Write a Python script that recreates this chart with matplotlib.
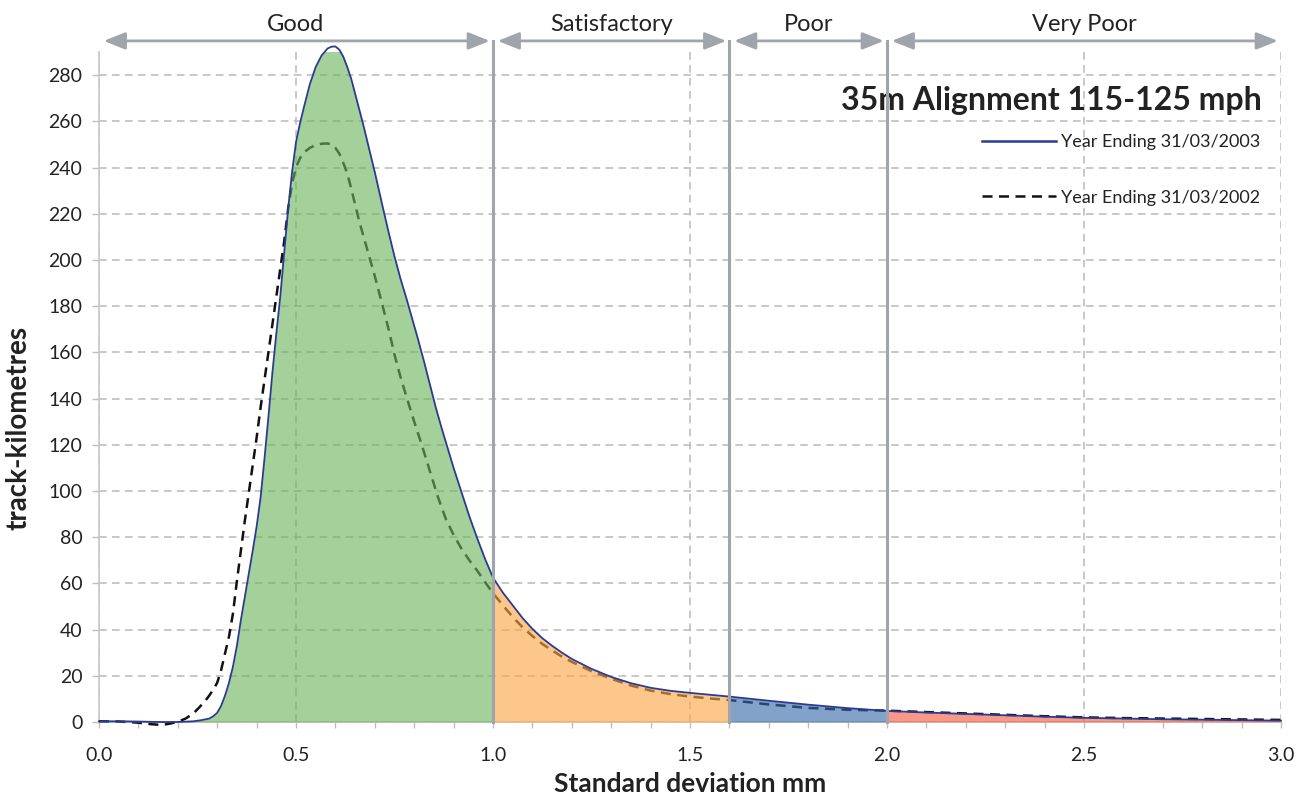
import numpy as np
import matplotlib.pyplot as plt
from matplotlib.lines import Line2D

plt.rcParams['font.family'] = ['Lato', 'DejaVu Sans']

# 2003 distribution (standard deviation mm -> track-km)
sd_2003 = [0.00, 0.05, 0.10, 0.15, 0.20, 0.24, 0.26, 0.28, 0.29, 0.30, 0.31, 0.32, 0.33,
           0.34, 0.35, 0.36, 0.37, 0.38, 0.39, 0.40, 0.41, 0.42, 0.43, 0.44, 0.45, 0.46,
           0.47, 0.48, 0.49, 0.50, 0.51, 0.52, 0.535, 0.55, 0.565, 0.58, 0.59, 0.60, 0.61,
           0.62, 0.629, 0.64, 0.65, 0.66, 0.67, 0.68, 0.69, 0.70, 0.71, 0.72, 0.735, 0.75,
           0.765, 0.78, 0.795, 0.81, 0.825, 0.84, 0.855, 0.87, 0.885, 0.90, 0.92, 0.94,
           0.96, 0.98, 1.00, 1.025, 1.05, 1.075, 1.10, 1.125, 1.15, 1.175, 1.20, 1.25,
           1.30, 1.35, 1.40, 1.45, 1.50, 1.55, 1.60, 1.70, 1.80, 1.90, 2.00, 2.10, 2.20,
           2.30, 2.40, 2.50, 2.60, 2.70, 2.80, 2.90, 3.00]
km_2003 = [0.3, 0.3, 0.2, 0.0, 0.0, 0.3, 0.8, 1.5, 2.5, 4.0, 7.0, 11.5, 17.0,
           24.0, 33, 44, 54, 64, 74, 84.5, 97, 114, 132, 151, 168, 184,
           203, 222, 238, 251, 259, 266, 276, 283.5, 288.5, 291.5, 292.3, 292.4, 291,
           288, 284, 278.5, 272, 265.5, 259, 252, 245, 238, 230.5, 223, 212, 201.5,
           192, 183.5, 174.5, 165.5, 156, 146, 136, 127, 118.5, 110, 99.5, 89,
           79.5, 70.5, 62.5, 56, 50.5, 45, 40.3, 36.3, 33, 30, 27.3, 23,
           19.5, 16.8, 14.8, 13.5, 12.6, 11.8, 11.0, 9.2, 7.5, 6.0, 4.8, 4.1, 3.5,
           2.9, 2.3, 1.8, 1.5, 1.2, 1.0, 0.8, 0.6]

# 2002 distribution
sd_2002 = [0.00, 0.05, 0.10, 0.13, 0.159, 0.18, 0.20, 0.22, 0.24, 0.256, 0.27, 0.28,
           0.29, 0.30, 0.31, 0.32, 0.33, 0.34, 0.35, 0.36, 0.37, 0.38, 0.39, 0.40, 0.41,
           0.42, 0.43, 0.44, 0.45, 0.46, 0.47, 0.48, 0.49, 0.50, 0.51, 0.52, 0.535, 0.55,
           0.565, 0.58, 0.59, 0.60, 0.61, 0.62, 0.63, 0.64, 0.65, 0.66, 0.67, 0.68, 0.69,
           0.70, 0.71, 0.72, 0.735, 0.75, 0.765, 0.78, 0.80, 0.82, 0.84, 0.86, 0.88, 0.90,
           0.92, 0.94, 0.96, 0.98, 1.00, 1.025, 1.05, 1.075, 1.10, 1.125, 1.15, 1.175,
           1.20, 1.25, 1.30, 1.35, 1.40, 1.45, 1.50, 1.55, 1.60, 1.70, 1.80, 1.90, 2.00,
           2.10, 2.20, 2.30, 2.40, 2.50, 2.60, 2.70, 2.80, 2.90, 3.00]
km_2002 = [0.3, 0.2, -0.3, -0.9, -1.3, -0.7, 0.1, 1.5, 3.8, 6.6, 9.2, 11.5,
           14.0, 17.0, 22.5, 29.8, 37, 47, 61, 74, 87, 99, 111, 123, 136,
           148, 160, 172, 184, 196, 208, 222, 233, 240, 244, 246.5, 248.5, 249.7,
           250.3, 250.4, 250, 248.5, 246, 242, 237.5, 231, 224, 217, 211, 205, 199,
           193, 186.5, 180, 170, 159, 149.5, 141, 130, 119.5, 108.5, 97.5, 88, 81,
           75, 70, 65.5, 60.5, 55.8, 50.5, 45.5, 41, 37.2, 33.8, 31, 28.3,
           26, 22, 18.7, 15.8, 13.6, 12.1, 11.0, 10.2, 9.5, 7.6, 6.1, 5.3, 4.9,
           4.3, 3.7, 3.1, 2.5, 2.0, 1.7, 1.5, 1.3, 1.1, 0.9]

bands = ['Good', 'Satisfactory', 'Poor', 'Very Poor']
band_edges = [0.0, 1.0, 1.6, 2.0, 3.0]
band_colors = ['#6cb35a', '#fca645', '#3669a8', '#f15b3e']

title = '35m Alignment 115-125 mph'
label_2003 = 'Year Ending 31/03/2003'
label_2002 = 'Year Ending 31/03/2002'

grey = '#9fa5ab'
grid_grey = '#b9b9b9'
text_col = '#222222'

fig = plt.figure(figsize=(13.08, 8.01), dpi=100)
ax = fig.add_axes([99 / 1308, 79 / 801, 1182 / 1308, 670 / 801])

ax.set_xlim(0, 3.0)
ax.set_ylim(0, 290)

ax.set_xticks(np.arange(0, 3.01, 0.5))
ax.set_xticks(np.arange(0, 3.01, 0.1), minor=True)
ax.set_xticklabels([f'{v:.1f}' for v in np.arange(0, 3.01, 0.5)])
ax.set_yticks(np.arange(0, 281, 20))

ax.grid(True, which='major', color=grid_grey, linestyle=(0, (5, 3.5)), linewidth=1.1)
ax.set_axisbelow(True)
for s in ['top', 'right']:
    ax.spines[s].set_visible(False)
for s in ['left', 'bottom']:
    ax.spines[s].set_color('#c8c8c8')
    ax.spines[s].set_linewidth(1.2)

ax.tick_params(axis='both', which='both', direction='out', color='#bdbdbd', width=1.0)
ax.tick_params(axis='x', which='both', length=4, pad=14, labelsize=14, labelcolor=text_col)
ax.tick_params(axis='y', length=5, pad=7, labelsize=14, labelcolor=text_col)

x03 = np.array(sd_2003)
y03 = np.array(km_2003)

# previous year dashed (drawn under the fills so it shows through)
ax.plot(sd_2002, km_2002, color='#111111', linestyle=(0, (4, 2.6)), linewidth=1.8,
        zorder=3, clip_on=False)

for lo, hi, c in zip(band_edges[:-1], band_edges[1:], band_colors):
    mask = (x03 >= lo) & (x03 <= hi)
    ax.fill_between(x03[mask], 0, y03[mask], color=c, alpha=0.62, linewidth=0, zorder=4)

ax.plot(sd_2003, km_2003, color='#2b3a94', linewidth=1.3, zorder=5, clip_on=False)

# band boundaries and range arrows
arrow_y = 294.8
for edge in band_edges[1:-1]:
    ax.plot([edge, edge], [0, arrow_y], color=grey, linewidth=2.2, zorder=6, clip_on=False)

for name, lo, hi in zip(bands, band_edges[:-1], band_edges[1:]):
    ax.annotate('', xy=(hi - 0.008, arrow_y), xytext=(lo + 0.012, arrow_y),
                annotation_clip=False,
                arrowprops=dict(arrowstyle='<|-|>,head_length=0.65,head_width=0.26',
                                mutation_scale=20, color=grey, linewidth=2.0,
                                shrinkA=0, shrinkB=0))
    ax.text((lo + hi) / 2, 302, name, ha='center', va='center', fontsize=17,
            color=text_col, clip_on=False)

ax.text(0.984, 0.928, title, transform=ax.transAxes, ha='right', va='center',
        fontsize=23, fontweight='bold', color=text_col)

handles = [Line2D([], [], color='#2b3a94', linewidth=1.8),
           Line2D([], [], color='#111111', linestyle=(0, (4, 2.6)), linewidth=1.8)]
ax.legend(handles, [label_2003, label_2002], loc='upper right',
          bbox_to_anchor=(1260 / 1308, 1 - 134 / 801), bbox_transform=fig.transFigure,
          frameon=False, fontsize=13, handlelength=4.1, handletextpad=0.25,
          labelspacing=2.2, borderpad=0, borderaxespad=0, labelcolor=text_col)

ax.set_xlabel('Standard deviation mm', fontsize=19, fontweight='bold', color=text_col,
              labelpad=6)
ax.set_ylabel('track-kilometres', fontsize=20, fontweight='bold', color=text_col)
ax.yaxis.set_label_coords(-0.057, 0.439)

fig.savefig('out.png', dpi=100)
